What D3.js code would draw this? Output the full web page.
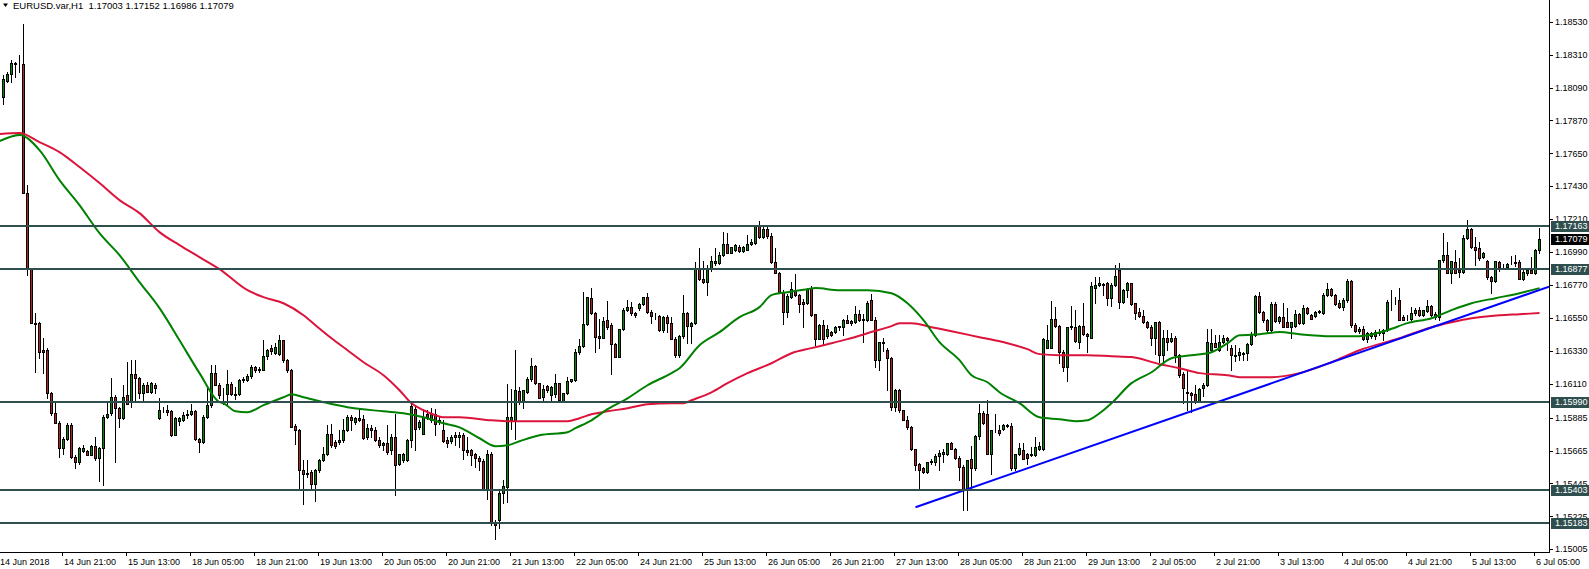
<!DOCTYPE html>
<html><head><meta charset="utf-8">
<script src="https://cdn.jsdelivr.net/npm/d3@7/dist/d3.min.js"></script>
<style>
html,body{margin:0;padding:0;background:#fff;overflow:hidden;}
svg{display:block;font-family:"Liberation Sans",Arial,sans-serif;}
</style></head><body>
<svg id="chart" width="1589" height="569"></svg>
<script>
const title = "EURUSD.var,H1  1.17003 1.17152 1.16986 1.17079";

const opens = [1.18029,1.18136,1.18178,1.18245,1.18245,1.18245,1.17383,1.16877,1.16514,1.16514,1.16336,1.16336,1.16046,1.15913,1.15852,1.15683,1.15745,1.15835,1.15623,1.15589,1.15661,1.15661,1.15638,1.15696,1.15612,1.15683,1.15890,1.15913,1.16024,1.15946,1.15879,1.16035,1.15991,1.16173,1.16151,1.16046,1.16106,1.16057,1.16106,1.15879,1.15942,1.15935,1.15928,1.15772,1.15861,1.15868,1.15901,1.15906,1.15928,1.15741,1.15723,1.15890,1.15968,1.16180,1.16102,
1.16045,1.16041,1.16112,1.16045,1.16041,1.16146,1.16139,1.16161,1.16224,1.16201,1.16206,1.16295,1.16353,1.16317,1.16313,1.16402,1.16268,1.16206,1.15827,1.15805,1.15533,1.15506,1.15519,1.15439,1.15537,1.15604,1.15644,1.15778,1.15722,1.15722,1.15733,1.15805,1.15889,1.15856,1.15883,1.15878,1.15756,1.15818,1.15805,1.15738,1.15700,1.15716,1.15667,1.15756,1.15573,1.15600,1.15600,1.15738,1.15945,1.15822,1.15778,1.15907,1.15867,1.15907,1.15856,
1.15801,1.15734,1.15730,1.15756,1.15756,1.15767,1.15667,1.15667,1.15640,1.15618,1.15596,1.15404,1.15645,1.15182,1.15199,1.15378,1.15422,1.15868,1.15868,1.16064,1.15990,1.16057,1.16140,1.16229,1.16113,1.16024,1.16095,1.16035,1.16042,1.16113,1.15997,1.16046,1.16131,1.16135,1.16324,1.16362,1.16509,1.16681,1.16581,1.16429,1.16420,1.16536,1.16503,1.16376,1.16291,1.16474,1.16607,1.16621,1.16581,1.16614,1.16643,1.16688,1.16592,1.16563,1.16563,
1.16469,1.16558,1.16514,1.16413,1.16302,1.16429,1.16585,1.16496,1.16514,1.16877,1.16814,1.16792,1.16875,1.16915,1.16915,1.16970,1.17044,1.16986,1.17004,1.17026,1.16999,1.17008,1.17044,1.17053,1.17164,1.17093,1.17142,1.17097,1.16926,1.16852,1.16725,1.16592,1.16692,1.16732,1.16703,1.16658,1.16652,1.16748,1.16576,1.16413,1.16502,1.16429,1.16458,1.16458,1.16496,1.16487,1.16540,1.16531,1.16525,1.16580,1.16540,1.16536,1.16670,1.16540,1.16273,
1.16380,1.16336,1.16280,1.15957,1.16068,1.15935,1.15872,1.15823,1.15672,1.15574,1.15545,1.15522,1.15589,1.15589,1.15627,1.15640,1.15640,1.15712,1.15678,1.15618,1.15556,1.15400,1.15611,1.15545,1.15761,1.15917,1.15912,1.15645,1.15801,1.15805,1.15812,1.15828,1.15828,1.15545,1.15640,1.15667,1.15640,1.15634,1.15634,1.15672,1.15672,1.16353,1.16353,1.16541,1.16496,1.16324,1.16224,1.16487,1.16492,1.16391,1.16496,1.16443,1.16420,1.16748,1.16770,
1.16777,1.16781,1.16681,1.16770,1.16870,1.16659,1.16737,1.16781,1.16648,1.16592,1.16563,1.16525,1.16487,1.16420,1.16525,1.16302,1.16420,1.16398,1.16420,1.16302,1.16175,1.16057,1.16051,1.16042,1.15997,1.16080,1.16102,1.16336,1.16385,1.16336,1.16391,1.16414,1.16347,1.16302,1.16302,1.16309,1.16318,1.16376,1.16436,1.16697,1.16592,1.16536,1.16469,1.16643,1.16532,1.16559,1.16525,1.16492,1.16496,1.16576,1.16514,1.16614,1.16570,1.16563,1.16592,1.16581,1.16703,
1.16741,1.16703,1.16652,1.16625,1.16670,1.16797,1.16502,1.16465,1.16480,1.16413,1.16447,1.16429,1.16458,1.16447,1.16469,1.16665,1.16670,1.16670,1.16558,1.16558,1.16547,1.16585,1.16603,1.16569,1.16598,1.16629,1.16580,1.16558,1.16937,1.16970,1.16852,1.16926,1.16870,1.16859,1.17082,1.17142,1.17022,1.17015,1.16955,1.16933,1.16821,1.16799,1.16926,1.16897,1.16892,1.16915,1.16915,1.16926,1.16814,1.16852,1.16870,1.16852,1.17003];

const highs = [1.18174,1.18196,1.18274,1.18263,1.18308,1.18513,1.17439,1.16880,1.16585,1.16525,1.16414,1.16347,1.16057,1.15991,1.15861,1.15757,1.15846,1.15846,1.15634,1.15690,1.15701,1.15668,1.15701,1.15757,1.15690,1.15901,1.15991,1.16147,1.16035,1.15957,1.16102,1.16258,1.16269,1.16269,1.16158,1.16113,1.16124,1.16124,1.16113,1.16013,1.15957,1.15968,1.15935,1.15890,1.15890,1.15924,1.15935,1.15979,1.15935,1.15750,1.15901,1.16080,1.16236,1.16236,1.16113,
1.16085,1.16201,1.16123,1.16090,1.16146,1.16157,1.16179,1.16235,1.16228,1.16224,1.16406,1.16346,1.16368,1.16380,1.16440,1.16406,1.16279,1.16212,1.15845,1.15811,1.15600,1.15600,1.15533,1.15544,1.15611,1.15689,1.15834,1.15845,1.15733,1.15800,1.15878,1.15901,1.15901,1.15889,1.15952,1.15901,1.15845,1.15834,1.15822,1.15756,1.15722,1.15838,1.15778,1.15912,1.15644,1.15649,1.15745,1.15978,1.15967,1.15867,1.15945,1.15934,1.15952,1.15945,1.15889,
1.15868,1.15752,1.15767,1.15790,1.15790,1.15779,1.15756,1.15672,1.15649,1.15627,1.15605,1.15667,1.15656,1.15200,1.15411,1.15471,1.16108,1.16073,1.16336,1.16091,1.16068,1.16157,1.16280,1.16235,1.16117,1.16102,1.16102,1.16095,1.16175,1.16117,1.16050,1.16153,1.16146,1.16340,1.16407,1.16726,1.16692,1.16748,1.16592,1.16547,1.16558,1.16665,1.16514,1.16385,1.16480,1.16614,1.16670,1.16659,1.16592,1.16650,1.16692,1.16719,1.16603,1.16581,1.16569,
1.16563,1.16569,1.16558,1.16425,1.16436,1.16703,1.16592,1.16525,1.16926,1.17015,1.16933,1.16904,1.16964,1.17015,1.16993,1.17126,1.17115,1.17026,1.17048,1.17037,1.17031,1.17104,1.17075,1.17171,1.17200,1.17160,1.17160,1.17115,1.17015,1.16859,1.16736,1.16710,1.16792,1.16843,1.16714,1.16674,1.16754,1.16763,1.16580,1.16509,1.16536,1.16502,1.16465,1.16496,1.16500,1.16547,1.16569,1.16540,1.16629,1.16603,1.16580,1.16665,1.16710,1.16558,1.16391,
1.16414,1.16347,1.16291,1.16073,1.16079,1.15939,1.15894,1.15828,1.15678,1.15583,1.15556,1.15589,1.15605,1.15640,1.15667,1.15672,1.15712,1.15721,1.15685,1.15627,1.15567,1.15600,1.15694,1.15767,1.15975,1.15930,1.16001,1.15801,1.15912,1.15834,1.15845,1.15841,1.15850,1.15645,1.15712,1.15716,1.15649,1.15689,1.15756,1.15723,1.16414,1.16503,1.16665,1.16625,1.16503,1.16336,1.16492,1.16630,1.16607,1.16503,1.16652,1.16447,1.16792,1.16826,1.16826,
1.16786,1.16792,1.16781,1.16904,1.16915,1.16745,1.16792,1.16786,1.16652,1.16614,1.16603,1.16532,1.16503,1.16525,1.16532,1.16469,1.16469,1.16447,1.16429,1.16313,1.16191,1.16202,1.16057,1.16102,1.16080,1.16113,1.16474,1.16474,1.16436,1.16436,1.16436,1.16425,1.16369,1.16369,1.16347,1.16325,1.16380,1.16458,1.16703,1.16726,1.16599,1.16541,1.16659,1.16659,1.16563,1.16648,1.16614,1.16525,1.16603,1.16581,1.16637,1.16625,1.16576,1.16599,1.16603,1.16719,1.16781,
1.16754,1.16714,1.16670,1.16681,1.16808,1.16803,1.16514,1.16491,1.16496,1.16458,1.16458,1.16469,1.16480,1.16474,1.16670,1.16736,1.16692,1.16748,1.16569,1.16569,1.16621,1.16614,1.16625,1.16607,1.16670,1.16636,1.16592,1.16941,1.17115,1.17060,1.16933,1.17004,1.16948,1.17104,1.17205,1.17149,1.17093,1.17060,1.16993,1.16937,1.16830,1.16930,1.16933,1.16910,1.16915,1.16964,1.16970,1.16941,1.16870,1.16875,1.16955,1.17010,1.17152];

const lows = [1.17978,1.18129,1.18129,1.18163,1.18196,1.17383,1.16837,1.16514,1.16187,1.16280,1.16180,1.16013,1.15901,1.15846,1.15623,1.15645,1.15734,1.15612,1.15545,1.15578,1.15652,1.15634,1.15634,1.15601,1.15460,1.15434,1.15884,1.15901,1.15589,1.15823,1.15874,1.15973,1.15957,1.15991,1.16013,1.16002,1.16053,1.16046,1.16046,1.15874,1.15924,1.15901,1.15763,1.15768,1.15835,1.15861,1.15879,1.15901,1.15734,1.15652,1.15712,1.15884,1.15957,1.16102,1.16013,
1.15978,1.15967,1.16034,1.16012,1.16034,1.16123,1.16130,1.16152,1.16190,1.16190,1.16201,1.16279,1.16313,1.16308,1.16302,1.16257,1.16190,1.15822,1.15707,1.15399,1.15310,1.15488,1.15399,1.15328,1.15522,1.15595,1.15633,1.15689,1.15684,1.15711,1.15722,1.15796,1.15800,1.15845,1.15863,1.15745,1.15745,1.15756,1.15729,1.15689,1.15667,1.15644,1.15644,1.15366,1.15566,1.15589,1.15595,1.15689,1.15667,1.15811,1.15773,1.15878,1.15856,1.15767,1.15845,
1.15723,1.15689,1.15712,1.15701,1.15689,1.15605,1.15634,1.15567,1.15556,1.15534,1.15400,1.15344,1.15166,1.15077,1.15144,1.15315,1.15322,1.15812,1.15745,1.15979,1.15946,1.16046,1.16131,1.16109,1.16013,1.15997,1.16057,1.15990,1.16024,1.15990,1.15990,1.16042,1.16124,1.16131,1.16313,1.16358,1.16503,1.16576,1.16324,1.16347,1.16414,1.16480,1.16175,1.16287,1.16287,1.16469,1.16599,1.16570,1.16558,1.16607,1.16636,1.16585,1.16518,1.16547,1.16465,
1.16458,1.16458,1.16407,1.16291,1.16291,1.16420,1.16384,1.16384,1.16509,1.16803,1.16785,1.16703,1.16866,1.16904,1.16910,1.16964,1.16982,1.16982,1.17001,1.16993,1.16993,1.17004,1.17037,1.17048,1.17088,1.17088,1.17088,1.16919,1.16848,1.16719,1.16509,1.16558,1.16681,1.16696,1.16592,1.16491,1.16647,1.16563,1.16369,1.16407,1.16369,1.16420,1.16429,1.16447,1.16469,1.16436,1.16514,1.16502,1.16518,1.16531,1.16391,1.16531,1.16536,1.16224,1.16206,
1.16331,1.16068,1.15935,1.15928,1.15923,1.15868,1.15812,1.15667,1.15534,1.15411,1.15516,1.15516,1.15578,1.15567,1.15534,1.15589,1.15634,1.15672,1.15611,1.15467,1.15266,1.15266,1.15400,1.15534,1.15745,1.15845,1.15640,1.15511,1.15790,1.15767,1.15801,1.15819,1.15538,1.15534,1.15634,1.15605,1.15578,1.15627,1.15627,1.15667,1.15667,1.16347,1.16347,1.16492,1.16251,1.16197,1.16128,1.16480,1.16391,1.16347,1.16436,1.16324,1.16414,1.16652,1.16763,
1.16703,1.16637,1.16630,1.16764,1.16614,1.16652,1.16692,1.16637,1.16541,1.16559,1.16518,1.16481,1.16369,1.16313,1.16258,1.16258,1.16336,1.16391,1.16258,1.16158,1.15984,1.15935,1.15924,1.15984,1.15990,1.16028,1.16095,1.16331,1.16354,1.16331,1.16385,1.16336,1.16202,1.16264,1.16269,1.16269,1.16269,1.16369,1.16429,1.16585,1.16525,1.16458,1.16465,1.16525,1.16518,1.16487,1.16487,1.16420,1.16487,1.16510,1.16510,1.16576,1.16541,1.16559,1.16585,1.16576,1.16697,
1.16696,1.16636,1.16614,1.16603,1.16658,1.16491,1.16458,1.16447,1.16402,1.16391,1.16420,1.16413,1.16436,1.16402,1.16465,1.16603,1.16643,1.16540,1.16536,1.16536,1.16540,1.16569,1.16563,1.16563,1.16592,1.16563,1.16547,1.16540,1.16926,1.16848,1.16781,1.16848,1.16821,1.16852,1.17075,1.17015,1.16904,1.16941,1.16948,1.16814,1.16719,1.16792,1.16866,1.16881,1.16888,1.16910,1.16899,1.16808,1.16803,1.16837,1.16848,1.16843,1.16986];

const closes = [1.18145,1.18178,1.18252,1.18252,1.18247,1.17383,1.16877,1.16514,1.16510,1.16320,1.16320,1.16046,1.15913,1.15852,1.15679,1.15745,1.15835,1.15623,1.15589,1.15683,1.15683,1.15638,1.15696,1.15612,1.15683,1.15890,1.15906,1.16024,1.15946,1.15879,1.16024,1.15979,1.16173,1.16151,1.16046,1.16102,1.16057,1.16113,1.16080,1.15935,1.15942,1.15924,1.15772,1.15879,1.15879,1.15901,1.15906,1.15928,1.15741,1.15719,1.15890,1.15968,1.16180,1.16102,1.16035,
1.16041,1.16112,1.16045,1.16036,1.16134,1.16134,1.16161,1.16224,1.16206,1.16212,1.16295,1.16335,1.16331,1.16357,1.16402,1.16268,1.16206,1.15822,1.15800,1.15533,1.15506,1.15515,1.15444,1.15537,1.15604,1.15644,1.15773,1.15700,1.15693,1.15738,1.15805,1.15889,1.15867,1.15883,1.15872,1.15751,1.15818,1.15800,1.15738,1.15700,1.15716,1.15655,1.15756,1.15566,1.15640,1.15640,1.15738,1.15961,1.15811,1.15856,1.15889,1.15889,1.15912,1.15845,1.15872,
1.15730,1.15716,1.15756,1.15767,1.15767,1.15667,1.15656,1.15634,1.15618,1.15596,1.15404,1.15645,1.15182,1.15166,1.15378,1.15427,1.15890,1.15890,1.16068,1.15990,1.16068,1.16140,1.16229,1.16113,1.16019,1.16073,1.16068,1.16091,1.16113,1.16001,1.16046,1.16131,1.16140,1.16324,1.16362,1.16509,1.16692,1.16581,1.16425,1.16420,1.16532,1.16492,1.16376,1.16291,1.16474,1.16607,1.16621,1.16581,1.16570,1.16643,1.16688,1.16592,1.16563,1.16567,1.16469,
1.16558,1.16514,1.16413,1.16302,1.16429,1.16585,1.16496,1.16514,1.16877,1.16814,1.16792,1.16875,1.16930,1.16930,1.16970,1.17044,1.16986,1.17022,1.17037,1.16999,1.17026,1.17044,1.17059,1.17164,1.17093,1.17142,1.17097,1.16926,1.16852,1.16725,1.16592,1.16696,1.16741,1.16703,1.16643,1.16643,1.16741,1.16569,1.16413,1.16502,1.16413,1.16480,1.16436,1.16491,1.16487,1.16540,1.16518,1.16518,1.16580,1.16540,1.16547,1.16652,1.16540,1.16273,1.16391,
1.16391,1.16280,1.15957,1.16068,1.15935,1.15872,1.15823,1.15672,1.15567,1.15534,1.15522,1.15589,1.15596,1.15627,1.15649,1.15656,1.15712,1.15678,1.15618,1.15556,1.15400,1.15600,1.15545,1.15761,1.15917,1.15850,1.15645,1.15801,1.15805,1.15779,1.15834,1.15834,1.15545,1.15640,1.15685,1.15611,1.15618,1.15640,1.15689,1.15694,1.16407,1.16402,1.16541,1.16496,1.16324,1.16224,1.16487,1.16496,1.16398,1.16496,1.16443,1.16429,1.16763,1.16770,1.16781,
1.16770,1.16681,1.16770,1.16830,1.16659,1.16737,1.16781,1.16643,1.16585,1.16563,1.16525,1.16492,1.16420,1.16525,1.16302,1.16420,1.16391,1.16420,1.16302,1.16169,1.16080,1.16051,1.16035,1.15990,1.16073,1.16102,1.16391,1.16385,1.16358,1.16391,1.16414,1.16403,1.16302,1.16296,1.16325,1.16318,1.16376,1.16436,1.16697,1.16592,1.16536,1.16469,1.16643,1.16532,1.16559,1.16492,1.16492,1.16525,1.16576,1.16514,1.16614,1.16581,1.16547,1.16592,1.16599,1.16703,1.16741,
1.16703,1.16643,1.16625,1.16670,1.16797,1.16502,1.16465,1.16480,1.16413,1.16447,1.16429,1.16458,1.16447,1.16469,1.16658,1.16663,1.16668,1.16540,1.16540,1.16556,1.16585,1.16603,1.16569,1.16603,1.16629,1.16569,1.16558,1.16937,1.16970,1.16852,1.16930,1.16852,1.16859,1.17082,1.17142,1.17022,1.17008,1.16948,1.16982,1.16821,1.16799,1.16930,1.16892,1.16895,1.16910,1.16919,1.16926,1.16814,1.16859,1.16870,1.16852,1.17004,1.17079];

const priceTicks = ["1.18530","1.18310","1.18090","1.17870","1.17650","1.17430","1.17210","1.16990","1.16770","1.16550","1.16330","1.16110","1.15885","1.15665","1.15445","1.15225","1.15005"];
const levels = [1.17163, 1.16877, 1.15990, 1.15403, 1.15183];
const firstDateLabel = "14 Jun 2018";
const timeLabels = ["14 Jun 21:00","15 Jun 13:00","18 Jun 05:00","18 Jun 21:00","19 Jun 13:00","20 Jun 05:00","20 Jun 21:00","21 Jun 13:00","22 Jun 05:00","24 Jun 21:00","25 Jun 13:00","26 Jun 05:00","26 Jun 21:00","27 Jun 13:00","28 Jun 05:00","28 Jun 21:00","29 Jun 13:00","2 Jul 05:00","2 Jul 21:00","3 Jul 13:00","4 Jul 05:00","4 Jul 21:00","5 Jul 13:00","6 Jul 05:00"];
const timeLabelBars = [15,31,47,63,79,95,111,127,143,159,175,191,207,223,239,255,271,287,303,319,335,351,367,383];

// moving averages: [bar index, price]
const fastMA = [[-1,1.17732],[4,1.17773],[9,1.17672],[14,1.17472],[19,1.17305],[24,1.17117],[29,1.16970],[34,1.16790],[39,1.16616],[44,1.16402],[49,1.16182],[54,1.15988],[55,1.15981],[58,1.15927],[61,1.15921],[65,1.15968],[70,1.16021],[72,1.16041],[75,1.16021],[80,1.15988],[86,1.15954],[95,1.15927],[100,1.15914],[105,1.15887],[110,1.15847],[114,1.15820],[119,1.15747],[123,1.15694],[126,1.15700],[129,1.15727],[134,1.15767],[141,1.15787],[143,1.15814],[147,1.15867],[151,1.15941],[156,1.16014],[161,1.16101],[167,1.16182],[169,1.16215],[174,1.16369],[179,1.16456],[184,1.16556],[189,1.16623],[192,1.16703],[196,1.16723],[201,1.16743],[203,1.16750],[209,1.16736],[216,1.16736],[222,1.16716],[226,1.16649],[230,1.16536],[234,1.16389],[239,1.16269],[242,1.16168],[246,1.16121],[249,1.16054],[254,1.15981],[259,1.15887],[264,1.15874],[268,1.15861],[271,1.15867],[274,1.15914],[277,1.15981],[282,1.16115],[287,1.16188],[292,1.16282],[297,1.16302],[302,1.16322],[306,1.16382],[309,1.16435],[314,1.16442],[319,1.16456],[324,1.16442],[332,1.16429],[339,1.16429],[346,1.16469],[351,1.16516],[357,1.16549],[362,1.16603],[367,1.16649],[373,1.16683],[379,1.16716],[384,1.16750]];
const slowMA = [[-1,1.17779],[4,1.17786],[9,1.17726],[14,1.17659],[19,1.17559],[24,1.17452],[29,1.17338],[34,1.17251],[39,1.17124],[44,1.17037],[49,1.16957],[54,1.16877],[61,1.16736],[65,1.16690],[70,1.16649],[75,1.16569],[78,1.16502],[82,1.16415],[86,1.16335],[90,1.16255],[95,1.16168],[99,1.16068],[102,1.15981],[105,1.15934],[108,1.15901],[110,1.15887],[114,1.15887],[122,1.15867],[126,1.15861],[134,1.15861],[141,1.15861],[144,1.15881],[147,1.15907],[151,1.15927],[156,1.15947],[161,1.15974],[167,1.15981],[170,1.15981],[172,1.16001],[177,1.16054],[181,1.16115],[186,1.16182],[192,1.16248],[197,1.16315],[202,1.16349],[206,1.16375],[211,1.16409],[216,1.16449],[222,1.16496],[224,1.16516],[227,1.16516],[232,1.16489],[237,1.16462],[244,1.16422],[251,1.16382],[256,1.16342],[259,1.16309],[264,1.16302],[271,1.16302],[277,1.16295],[282,1.16289],[289,1.16242],[294,1.16215],[299,1.16182],[306,1.16168],[309,1.16155],[317,1.16155],[324,1.16182],[332,1.16255],[339,1.16335],[349,1.16415],[357,1.16489],[362,1.16522],[367,1.16549],[374,1.16569],[379,1.16576],[384,1.16583]];
const trendLine = [[228,1.15286],[386.4,1.16760]];

// ---------- layout ----------
const W = 1589, H = 569;
const plotRight = 1549, plotBottom = 552;
const COL = {bull:"#008a00", bear:"#b22222", level:"#2f4f4f", fast:"#008000", slow:"#dc143c", trend:"#0000ff"};

const svg = d3.select("#chart");
svg.append("rect").attr("width",W).attr("height",H).attr("fill","#fff");

const x = d3.scaleLinear().domain([0,1]).range([3.5,7.5]);
const y = d3.scaleLinear().domain([1.15005,1.18530]).range([549.3,21.7]);

svg.append("defs").append("clipPath").attr("id","plot")
  .append("rect").attr("x",0).attr("y",0).attr("width",plotRight).attr("height",plotBottom);

const plot = svg.append("g").attr("clip-path","url(#plot)");

const bars = opens.map((o,i)=>({i,o,h:Math.max(highs[i],o,closes[i]),l:Math.min(lows[i],o,closes[i]),c:closes[i]}));

const cg = plot.append("g").attr("shape-rendering","crispEdges");
cg.selectAll("rect.wick").data(bars).join("rect").attr("class","wick")
  .attr("x",d=>Math.floor(x(d.i))).attr("width",1)
  .attr("y",d=>Math.round(y(d.h)))
  .attr("height",d=>Math.max(1,Math.round(y(d.l))-Math.round(y(d.h))+1))
  .attr("fill","#000");
cg.selectAll("rect.body").data(bars).join("rect").attr("class","body")
  .attr("x",d=>Math.floor(x(d.i))-1.5+0.5)
  .attr("width",2)
  .attr("y",d=>Math.round(y(Math.max(d.o,d.c)))+0.5)
  .attr("height",d=>Math.max(0,Math.round(y(Math.min(d.o,d.c)))-Math.round(y(Math.max(d.o,d.c)))))
  .attr("fill",d=>d.c>=d.o?COL.bull:COL.bear)
  .attr("stroke","#000").attr("stroke-width",1);

const line = d3.line().x(d=>x(d[0])).y(d=>y(d[1])).curve(d3.curveMonotoneX);
plot.append("path").datum(slowMA).attr("d",line).attr("fill","none").attr("stroke",COL.slow).attr("stroke-width",2);
plot.append("path").datum(fastMA).attr("d",line).attr("fill","none").attr("stroke",COL.fast).attr("stroke-width",2);
plot.append("path").datum(trendLine).attr("d",d3.line().x(d=>x(d[0])).y(d=>y(d[1])))
  .attr("fill","none").attr("stroke",COL.trend).attr("stroke-width",2);

plot.selectAll("line.level").data(levels).join("line").attr("class","level")
  .attr("x1",0).attr("x2",plotRight)
  .attr("y1",d=>Math.round(y(d))).attr("y2",d=>Math.round(y(d)))
  .attr("stroke",COL.level).attr("stroke-width",2);

const ax = svg.append("g").attr("shape-rendering","crispEdges");
ax.append("line").attr("x1",plotRight+0.5).attr("x2",plotRight+0.5).attr("y1",0).attr("y2",plotBottom+1).attr("stroke","#000");
ax.append("line").attr("x1",0).attr("x2",plotRight+1).attr("y1",plotBottom+0.5).attr("y2",plotBottom+0.5).attr("stroke","#000");

const font = 9;
ax.selectAll("line.ytick").data(priceTicks).join("line").attr("class","ytick")
  .attr("x1",plotRight).attr("x2",plotRight+4)
  .attr("y1",d=>Math.round(y(+d))+0.5).attr("y2",d=>Math.round(y(+d))+0.5).attr("stroke","#000");
svg.selectAll("text.ylab").data(priceTicks).join("text").attr("class","ylab")
  .attr("x",plotRight+6).attr("y",d=>y(+d)).attr("dy","0.35em")
  .attr("font-size",font).attr("fill","#000").text(d=>d);

ax.selectAll("line.xtick").data(timeLabelBars).join("line").attr("class","xtick")
  .attr("x1",d=>Math.floor(x(d))-0.5).attr("x2",d=>Math.floor(x(d))-0.5)
  .attr("y1",plotBottom).attr("y2",plotBottom+4).attr("stroke","#000");
svg.selectAll("text.xlab").data(timeLabels).join("text").attr("class","xlab")
  .attr("x",(d,k)=>Math.floor(x(timeLabelBars[k]))+1).attr("y",565)
  .attr("font-size",font).attr("fill","#000").text(d=>d);
svg.append("text").attr("x",0).attr("y",565).attr("font-size",font).attr("fill","#000").text(firstDateLabel);

const boxes = svg.append("g");
levels.forEach(v=>{
  const yy = Math.round(y(v));
  boxes.append("rect").attr("x",plotRight+2).attr("y",yy-5).attr("width",W-plotRight-2).attr("height",11).attr("fill",COL.level);
  boxes.append("text").attr("x",plotRight+6).attr("y",yy).attr("dy","0.35em").attr("font-size",font).attr("fill","#fff").text(v.toFixed(5));
});
const last = closes[closes.length-1];
{
  const yy = Math.round(y(last));
  boxes.append("rect").attr("x",plotRight+2).attr("y",yy-5).attr("width",W-plotRight-2).attr("height",11).attr("fill","#000");
  boxes.append("text").attr("x",plotRight+6).attr("y",yy).attr("dy","0.35em").attr("font-size",font).attr("fill","#fff").text(last.toFixed(5));
}

svg.append("path").attr("d","M3,3.5 L8,3.5 L5.5,7 Z").attr("fill","#000");
svg.append("text").attr("x",13).attr("y",9).attr("font-size",9.5).attr("fill","#000")
  .style("white-space","pre").text(title);
</script>
</body></html>
